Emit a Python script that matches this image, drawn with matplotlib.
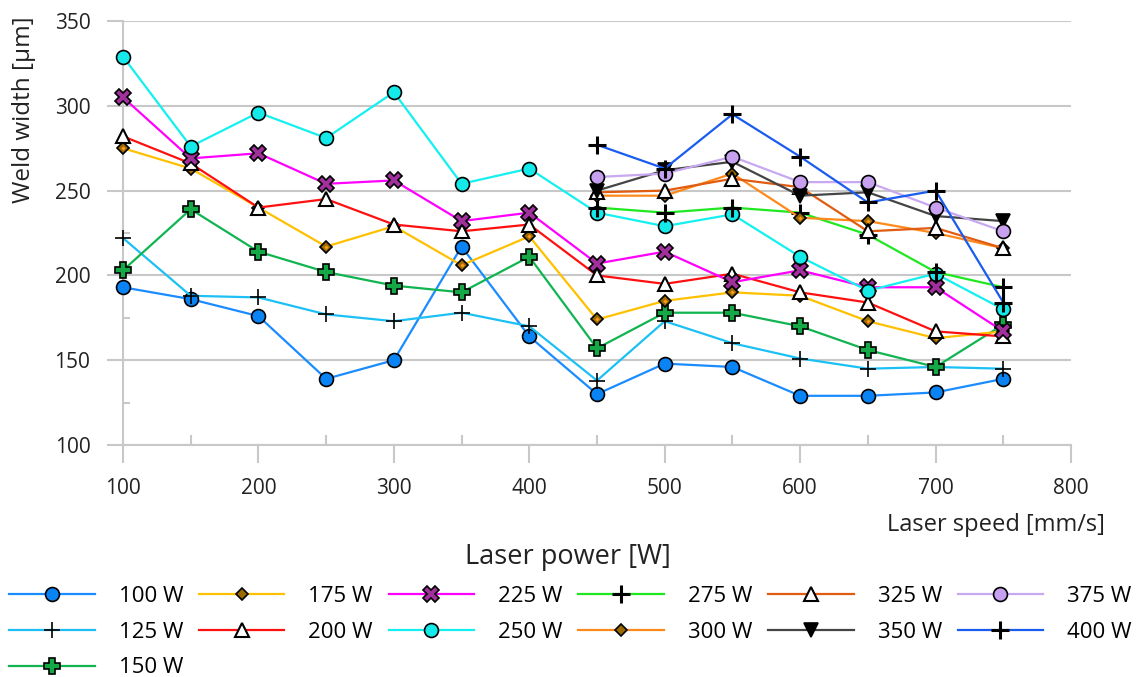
import matplotlib
matplotlib.use('Agg')
import matplotlib.pyplot as plt
from matplotlib.ticker import MultipleLocator

plt.rcParams['font.family'] = ['Open Sans', 'DejaVu Sans']

# laser speed settings [mm/s]
speed_all = [100, 150, 200, 250, 300, 350, 400, 450, 500, 550, 600, 650, 700, 750]
speed_hi = [450, 500, 550, 600, 650, 700, 750]

# weld width [um] for each laser power
w100 = [193, 186, 176, 139, 150, 217, 164, 130, 148, 146, 129, 129, 131, 139]
w125 = [222, 188, 187, 177, 173, 178, 170, 138, 173, 160, 151, 145, 146, 145]
w150 = [203, 239, 214, 202, 194, 190, 211, 157, 178, 178, 170, 156, 146, 171]
w175 = [275, 263, 240, 217, 229, 206, 223, 174, 185, 190, 188, 173, 163, 167]
w200 = [282, 266, 240, 245, 230, 226, 230, 200, 195, 201, 190, 184, 167, 164]
w225 = [305, 269, 272, 254, 256, 232, 237, 207, 214, 196, 203, 193, 193, 167]
w250 = [329, 276, 296, 281, 308, 254, 263, 237, 229, 236, 211, 191, 201, 180]
w275 = [240, 237, 240, 237, 224, 202, 193]
w300 = [247, 247, 260, 234, 232, 225, 216]
w325 = [249, 250, 257, 252, 226, 228, 216]
w350 = [250, 262, 267, 247, 249, 235, 232]
w375 = [258, 260, 270, 255, 255, 240, 226]
w400 = [277, 263, 295, 270, 243, 250, 184]

# label, x, y, line colour, marker, marker face, marker size, marker edge width
series = [
    ('100 W', speed_all, w100, '#1a8cff', 'o', '#0a84f5', 10, 1.2),
    ('125 W', speed_all, w125, '#1cc0f5', '+', 'black', 12, 1.2),
    ('150 W', speed_all, w150, '#10b450', 'P', '#14a846', 11, 1.2),
    ('175 W', speed_all, w175, '#ffc000', 'D', '#9c6a00', 6.5, 1.2),
    ('200 W', speed_all, w200, '#ff1010', '^', 'white', 10, 1.5),
    ('225 W', speed_all, w225, '#ff00ff', 'X', '#a0309c', 11, 1.2),
    ('250 W', speed_all, w250, '#14f0f0', 'o', '#14eaea', 10, 1.2),
    ('275 W', speed_hi, w275, '#20e820', '+', 'black', 13, 2.2),
    ('300 W', speed_hi, w300, '#ff8a1c', 'D', '#9c6a00', 6.5, 1.2),
    ('325 W', speed_hi, w325, '#e05c10', '^', 'white', 10, 1.5),
    ('350 W', speed_hi, w350, '#454545', 'v', 'black', 10, 1.2),
    ('375 W', speed_hi, w375, '#c8a8f0', 'o', '#c8a0f0', 10, 1.2),
    ('400 W', speed_hi, w400, '#1a5cf0', '+', 'black', 13, 2.2),
]

fig = plt.figure(figsize=(11.36, 6.77), dpi=100)
ax = fig.add_axes([123 / 1136, 1 - 445 / 677, (1071 - 123) / 1136, (445 - 21) / 677])

for label, xs, ys, col, mk, face, ms, mew in series:
    ax.plot(xs, ys, color=col, lw=1.6, marker=mk, markersize=ms,
            markerfacecolor=face, markeredgecolor='black', markeredgewidth=mew,
            label=label, clip_on=False, zorder=3)
    if mk == 'D':
        # small orange centre inside the brown diamonds
        ax.plot(xs, ys, ls='none', marker='D', markersize=2.2, markerfacecolor='#ff9a1a',
                markeredgewidth=0, clip_on=False, zorder=3)

ax.set_xlim(100, 800)
ax.set_ylim(100, 350)
ax.xaxis.set_major_locator(MultipleLocator(100))
ax.xaxis.set_minor_locator(MultipleLocator(50))
ax.yaxis.set_major_locator(MultipleLocator(50))
ax.yaxis.set_minor_locator(MultipleLocator(25))

grey = '#c8c8c8'
ink = '#222222'
ax.grid(axis='y', which='major', color=grey, lw=1.5)
ax.set_axisbelow(True)
for side in ['top', 'right']:
    ax.spines[side].set_visible(False)
for side in ['left', 'bottom']:
    ax.spines[side].set_color(grey)
    ax.spines[side].set_linewidth(1.5)

ax.tick_params(axis='y', which='major', direction='out', length=11.5, width=1.5,
               color=grey, labelsize=15, pad=12, labelcolor=ink)
ax.tick_params(axis='y', which='minor', direction='in', length=5, width=1.5, color=grey)
ax.tick_params(axis='x', which='major', direction='out', length=13, width=1.5,
               color=grey, labelsize=15, pad=11, labelcolor=ink)
ax.tick_params(axis='x', which='minor', direction='in', length=7, width=1.5, color=grey)

fig.text(24 / 1136, 1 - 110 / 677, 'Weld width [µm]', rotation=90, ha='center',
         va='center', fontsize=17.5, color=ink)
fig.text(1105 / 1136, 1 - 525 / 677, 'Laser speed [mm/s]', ha='right', va='center',
         fontsize=17, color=ink)
fig.text(568 / 1136, 1 - 557 / 677, 'Laser power [W]', ha='center', va='center',
         fontsize=19.5, color=ink)

fig.legend(loc='upper left', bbox_to_anchor=(9 / 1136, 1 - 586 / 677), ncol=6,
           frameon=False, fontsize=16, handlelength=3.85, handletextpad=1.08,
           columnspacing=0.71, labelspacing=0.66, borderpad=0, borderaxespad=0,
           numpoints=1)

fig.savefig('out.png', dpi=100)
